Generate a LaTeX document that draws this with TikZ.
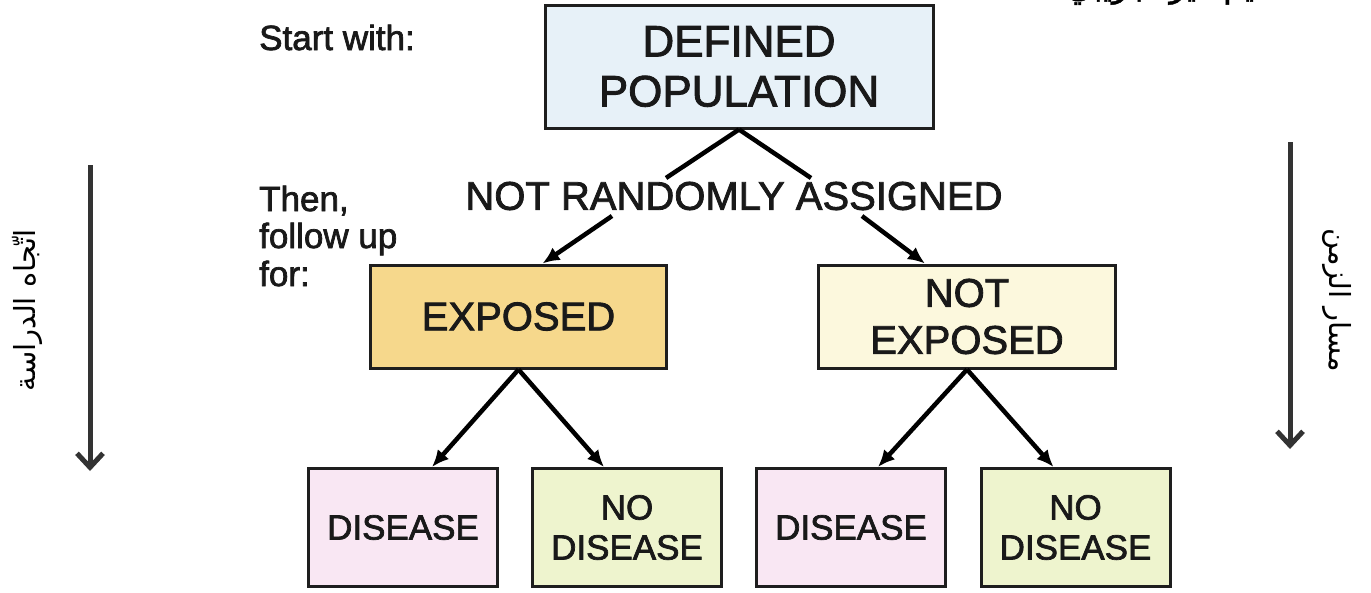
\documentclass[tikz,border=0pt]{standalone}
\usepackage{fontspec}
\setmainfont{Liberation Sans}
\newfontfamily\heavy{Liberation Sans}[FakeBold=2]
\newfontfamily\arabicfont[Script=Arabic]{DejaVu Sans}
\newfontfamily\arabicheavy[Script=Arabic,FakeBold=1.5]{DejaVu Sans}
\TeXXeTstate=1
\usetikzlibrary{arrows.meta}

\definecolor{popfill}{RGB}{231,241,248}
\definecolor{expfill}{RGB}{246,216,140}
\definecolor{nexpfill}{RGB}{252,248,221}
\definecolor{disfill}{RGB}{249,231,243}
\definecolor{ndisfill}{RGB}{238,244,206}
\definecolor{edge}{RGB}{30,30,30}
\definecolor{sidegray}{RGB}{51,51,51}
\definecolor{ink}{RGB}{25,25,25}

\begin{document}
\begin{tikzpicture}[x=1pt,y=-1pt,
  box/.style={draw=edge, line width=3pt, rectangle, inner sep=0pt, align=center, text=ink},
  bigtext/.style={font=\heavy\fontsize{44}{50}\selectfont},
  midtext/.style={font=\heavy\fontsize{40}{47}\selectfont},
  smalltext/.style={font=\heavy\fontsize{35}{40}\selectfont},
  note/.style={font=\heavy\fontsize{35}{37}\selectfont, inner sep=0pt, text=ink},
  link/.style={line width=4.5pt, draw=black},
  arr/.style={link, -{Latex[length=17pt,width=15pt]}},
  timeline/.style={line width=5pt, draw=sidegray, -{Straight Barb[length=14pt,width=26pt]}},
  sidelabel/.style={font=\arabicfont\fontsize{29}{32}\selectfont, inner sep=0pt, text=black},
]
\useasboundingbox (0,0) rectangle (1371,592);

% clipped heading at the upper right
\node[anchor=base east, inner sep=0pt, font=\arabicheavy\fontsize{32}{36}\selectfont] (ttl) at (1310,-3) {\beginR تصميم غير تجريبي\endR};

% left-hand captions
\node[note, anchor=base west] (start) at (259,50) {Start with:};
\node[note, anchor=base west] (then1) at (259,211) {Then,};
\node[note, anchor=base west] (then2) at (259,248) {follow up};
\node[note, anchor=base west] (then3) at (259,286) {for:};

% boxes
\node[box, bigtext, fill=popfill, minimum width=388, minimum height=123] (pop) at (739,66.5) {DEFINED\\POPULATION};
\node[inner sep=0pt, midtext, text=ink] (nr) at (734,196) {NOT RANDOMLY ASSIGNED};
\node[box, midtext, fill=expfill, minimum width=296, minimum height=103] (exp) at (518.5,316.5) {EXPOSED};
\node[box, midtext, fill=nexpfill, minimum width=297, minimum height=103] (nexp) at (967,316.5) {NOT\\EXPOSED};

\node[box, smalltext, fill=disfill, minimum width=189, minimum height=118] (d1) at (403,527.5) {DISEASE};
\node[box, smalltext, fill=ndisfill, minimum width=189, minimum height=118] (n1) at (627,527.5) {NO\\DISEASE};
\node[box, smalltext, fill=disfill, minimum width=189, minimum height=118] (d2) at (851,527.5) {DISEASE};
\node[box, smalltext, fill=ndisfill, minimum width=189, minimum height=118] (n2) at (1075.5,527.5) {NO\\DISEASE};

% split under the population box
\coordinate (nrL) at (666,178);
\coordinate (nrR) at (811,178);
\coordinate (nrLb) at (612,216);
\coordinate (nrRb) at (862,216);
\draw[link] (pop.south) -- (nrL);
\draw[link] (pop.south) -- (nrR);
\draw[arr] (nrLb) -- ([xshift=24]exp.north);
\draw[arr] (nrRb) -- ([xshift=-42]nexp.north);

% follow-up outcomes
\draw[arr] (exp.south) -- ([xshift=29]d1.north);
\draw[arr] (exp.south) -- ([xshift=-23]n1.north);
\draw[arr] (nexp.south) -- ([xshift=27]d2.north);
\draw[arr] (nexp.south) -- ([xshift=-22]n2.north);

% time axes on both sides
\coordinate (lt) at (90,165);
\coordinate (lb) at (90,471);
\coordinate (rt) at (1290,142);
\coordinate (rb) at (1290,449);
\draw[timeline] (lt) -- (lb);
\draw[timeline] (rt) -- (rb);
\node[sidelabel, rotate=90] (lab1) at (27,310) {\beginR اتّجاه الدراسة\endR};
\node[sidelabel, rotate=-90] (lab2) at (1337,300) {\beginR مسار الزمن\endR};
\end{tikzpicture}
\end{document}
